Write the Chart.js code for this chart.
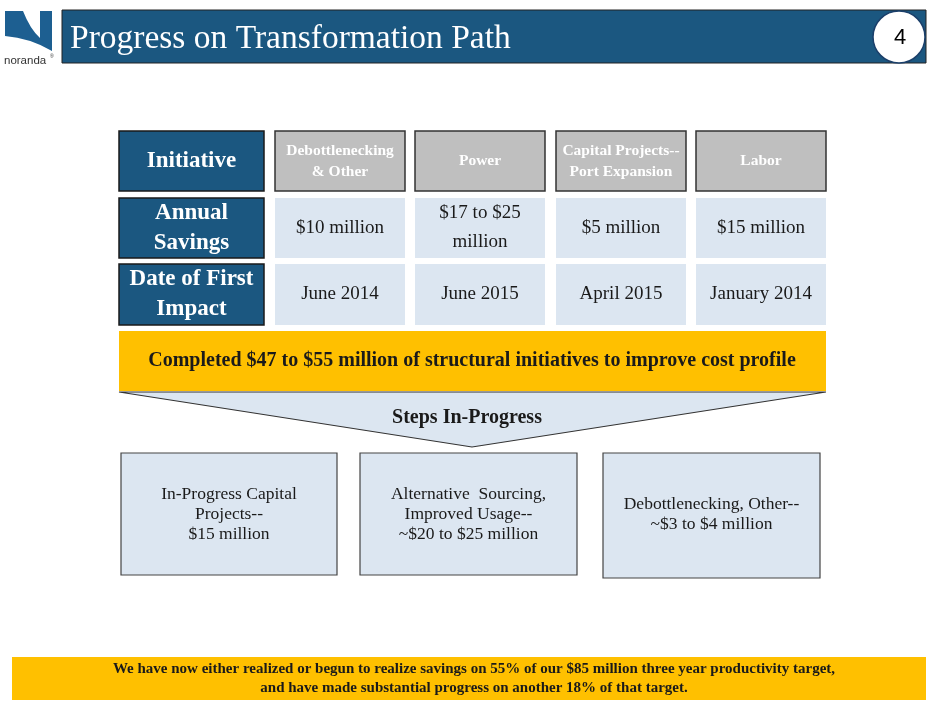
<!DOCTYPE html>
<html>
<head>
<meta charset="utf-8">
<script src="https://cdn.jsdelivr.net/npm/chart.js@4.4.1/dist/chart.umd.min.js"></script>
<style>
  html, body { margin: 0; padding: 0; background: #fff; }
  #slide { display: block; }
</style>
</head>
<body>
<canvas id="slide" width="940" height="705"></canvas>
<script>
// slide content
const titleText = 'Progress on Transformation Path';
const pageNumber = '4';
const rowLabels = [['Initiative'], ['Annual', 'Savings'], ['Date of First', 'Impact']];
const initiatives = [['Debottlenecking', '& Other'], ['Power'], ['Capital Projects--', 'Port Expansion'], ['Labor']];
const annualSavings = [['$10 million'], ['$17 to $25', 'million'], ['$5 million'], ['$15 million']];
const firstImpact = [['June 2014'], ['June 2015'], ['April 2015'], ['January 2014']];
const completedText = 'Completed $47 to $55 million of structural initiatives to improve cost profile';
const stepsTitle = 'Steps In-Progress';
const steps = [
  ['In-Progress Capital', 'Projects--', '$15 million'],
  ['Alternative  Sourcing,', 'Improved Usage--', '~$20 to $25 million'],
  ['Debottlenecking, Other--', '~$3 to $4 million']
];
const footerLines = [
  'We have now either realized or begun to realize savings on 55% of our $85 million three year productivity target,',
  'and have made substantial progress on another 18% of that target.'
];

// layout, in slide units (same as the hidden axes)
const colX = [[119, 264], [275, 405], [415, 545], [556, 686], [696, 826]];
const rowY = [[131, 191], [198, 258], [264, 325]];
const stepBoxes = [[121, 337, 453, 575], [360, 577, 453, 575], [603, 820, 453, 578]];

const NAVY = '#1b5780';
const SERIF = '"Liberation Serif", "DejaVu Serif", serif';

const slidePlugin = {
  id: 'slide',
  afterDraw(chart) {
    const { ctx, scales } = chart;
    const X = v => scales.x.getPixelForValue(v);
    const Y = v => scales.y.getPixelForValue(v);

    const rect = (x0, x1, y0, y1, fill, stroke, lw) => {
      ctx.beginPath();
      ctx.rect(X(x0), Y(y0), X(x1) - X(x0), Y(y1) - Y(y0));
      if (fill) { ctx.fillStyle = fill; ctx.fill(); }
      if (stroke) { ctx.strokeStyle = stroke; ctx.lineWidth = lw || 1; ctx.stroke(); }
    };
    const text = (lines, cx, cy, lh, font, color, align) => {
      ctx.font = font;
      ctx.fillStyle = color;
      ctx.textAlign = align || 'center';
      ctx.textBaseline = 'middle';
      const top = cy - (lines.length - 1) * lh / 2;
      lines.forEach((l, i) => ctx.fillText(l, X(cx), Y(top + i * lh)));
    };

    ctx.save();

    // logo
    ctx.beginPath();
    ctx.moveTo(X(5), Y(11));
    ctx.lineTo(X(23), Y(11));
    ctx.quadraticCurveTo(X(30), Y(29), X(40), Y(38));
    ctx.lineTo(X(40), Y(11));
    ctx.lineTo(X(52), Y(11));
    ctx.lineTo(X(52), Y(51));
    ctx.quadraticCurveTo(X(30), Y(38), X(5), Y(36));
    ctx.closePath();
    ctx.fillStyle = '#1d5f91';
    ctx.fill();
    text(['noranda'], 4, 61, 0, '11.5px "Liberation Sans", Arial, sans-serif', '#333', 'left');
    text(['®'], 50, 57, 0, '5px "Liberation Sans", Arial, sans-serif', '#333', 'left');

    // title bar
    rect(62, 926, 10, 63, NAVY, '#222', 1);
    text([titleText], 70, 39, 0, '33.5px ' + SERIF, '#fff', 'left');
    ctx.beginPath();
    ctx.arc(X(899), Y(37), X(925) - X(899), 0, Math.PI * 2);
    ctx.fillStyle = '#fff';
    ctx.fill();
    ctx.strokeStyle = '#1b3f6a';
    ctx.lineWidth = 1.5;
    ctx.stroke();
    text([pageNumber], 900, 38, 0, '22px "Liberation Sans", Arial, sans-serif', '#000');

    // table
    rowLabels.forEach((lines, r) => {
      const [y0, y1] = rowY[r];
      rect(colX[0][0], colX[0][1], y0, y1, NAVY, '#1a1a1a', 1.5);
      text(lines, (colX[0][0] + colX[0][1]) / 2, (y0 + y1) / 2, 30, 'bold 23px ' + SERIF, '#fff');
    });
    const rows = [initiatives, annualSavings, firstImpact];
    rows.forEach((cells, r) => {
      const [y0, y1] = rowY[r];
      cells.forEach((lines, c) => {
        const [x0, x1] = colX[c + 1];
        if (r === 0) {
          rect(x0, x1, y0, y1, '#bfbfbf', '#333', 1.5);
          text(lines, (x0 + x1) / 2, (y0 + y1) / 2, 21, 'bold 15.5px ' + SERIF, '#fff');
        } else {
          rect(x0, x1, y0, y1, '#dce6f1');
          text(lines, (x0 + x1) / 2, (y0 + y1) / 2, 29, '19px ' + SERIF, '#1a1a1a');
        }
      });
    });

    // completed banner
    rect(119, 826, 331, 391, '#ffc000');
    text([completedText], 472, 361, 0, 'bold 20px ' + SERIF, '#1a1a1a');

    // chevron
    ctx.beginPath();
    ctx.moveTo(X(119), Y(392));
    ctx.lineTo(X(826), Y(392));
    ctx.lineTo(X(472), Y(447));
    ctx.closePath();
    ctx.fillStyle = '#dce6f1';
    ctx.fill();
    ctx.strokeStyle = '#333';
    ctx.lineWidth = 1.2;
    ctx.stroke();
    text([stepsTitle], 467, 418, 0, 'bold 20px ' + SERIF, '#1a1a1a');

    // step boxes
    steps.forEach((lines, i) => {
      const [x0, x1, y0, y1] = stepBoxes[i];
      rect(x0, x1, y0, y1, '#dce6f1', '#444', 1.2);
      text(lines, (x0 + x1) / 2, 514, 20, '17.5px ' + SERIF, '#1a1a1a');
    });

    // footer
    rect(12, 926, 657, 700, '#ffc000');
    text(footerLines, 474, 679, 19, 'bold 15px ' + SERIF, '#1a1a1a');

    ctx.restore();
  }
};

new Chart(document.getElementById('slide'), {
  type: 'scatter',
  data: { datasets: [] },
  options: {
    responsive: false,
    animation: false,
    layout: { padding: 0 },
    plugins: { legend: { display: false }, tooltip: { enabled: false } },
    scales: {
      x: { type: 'linear', min: 0, max: 940, display: false },
      y: { type: 'linear', min: 0, max: 705, reverse: true, display: false }
    }
  },
  plugins: [slidePlugin]
});
</script>
</body>
</html>
